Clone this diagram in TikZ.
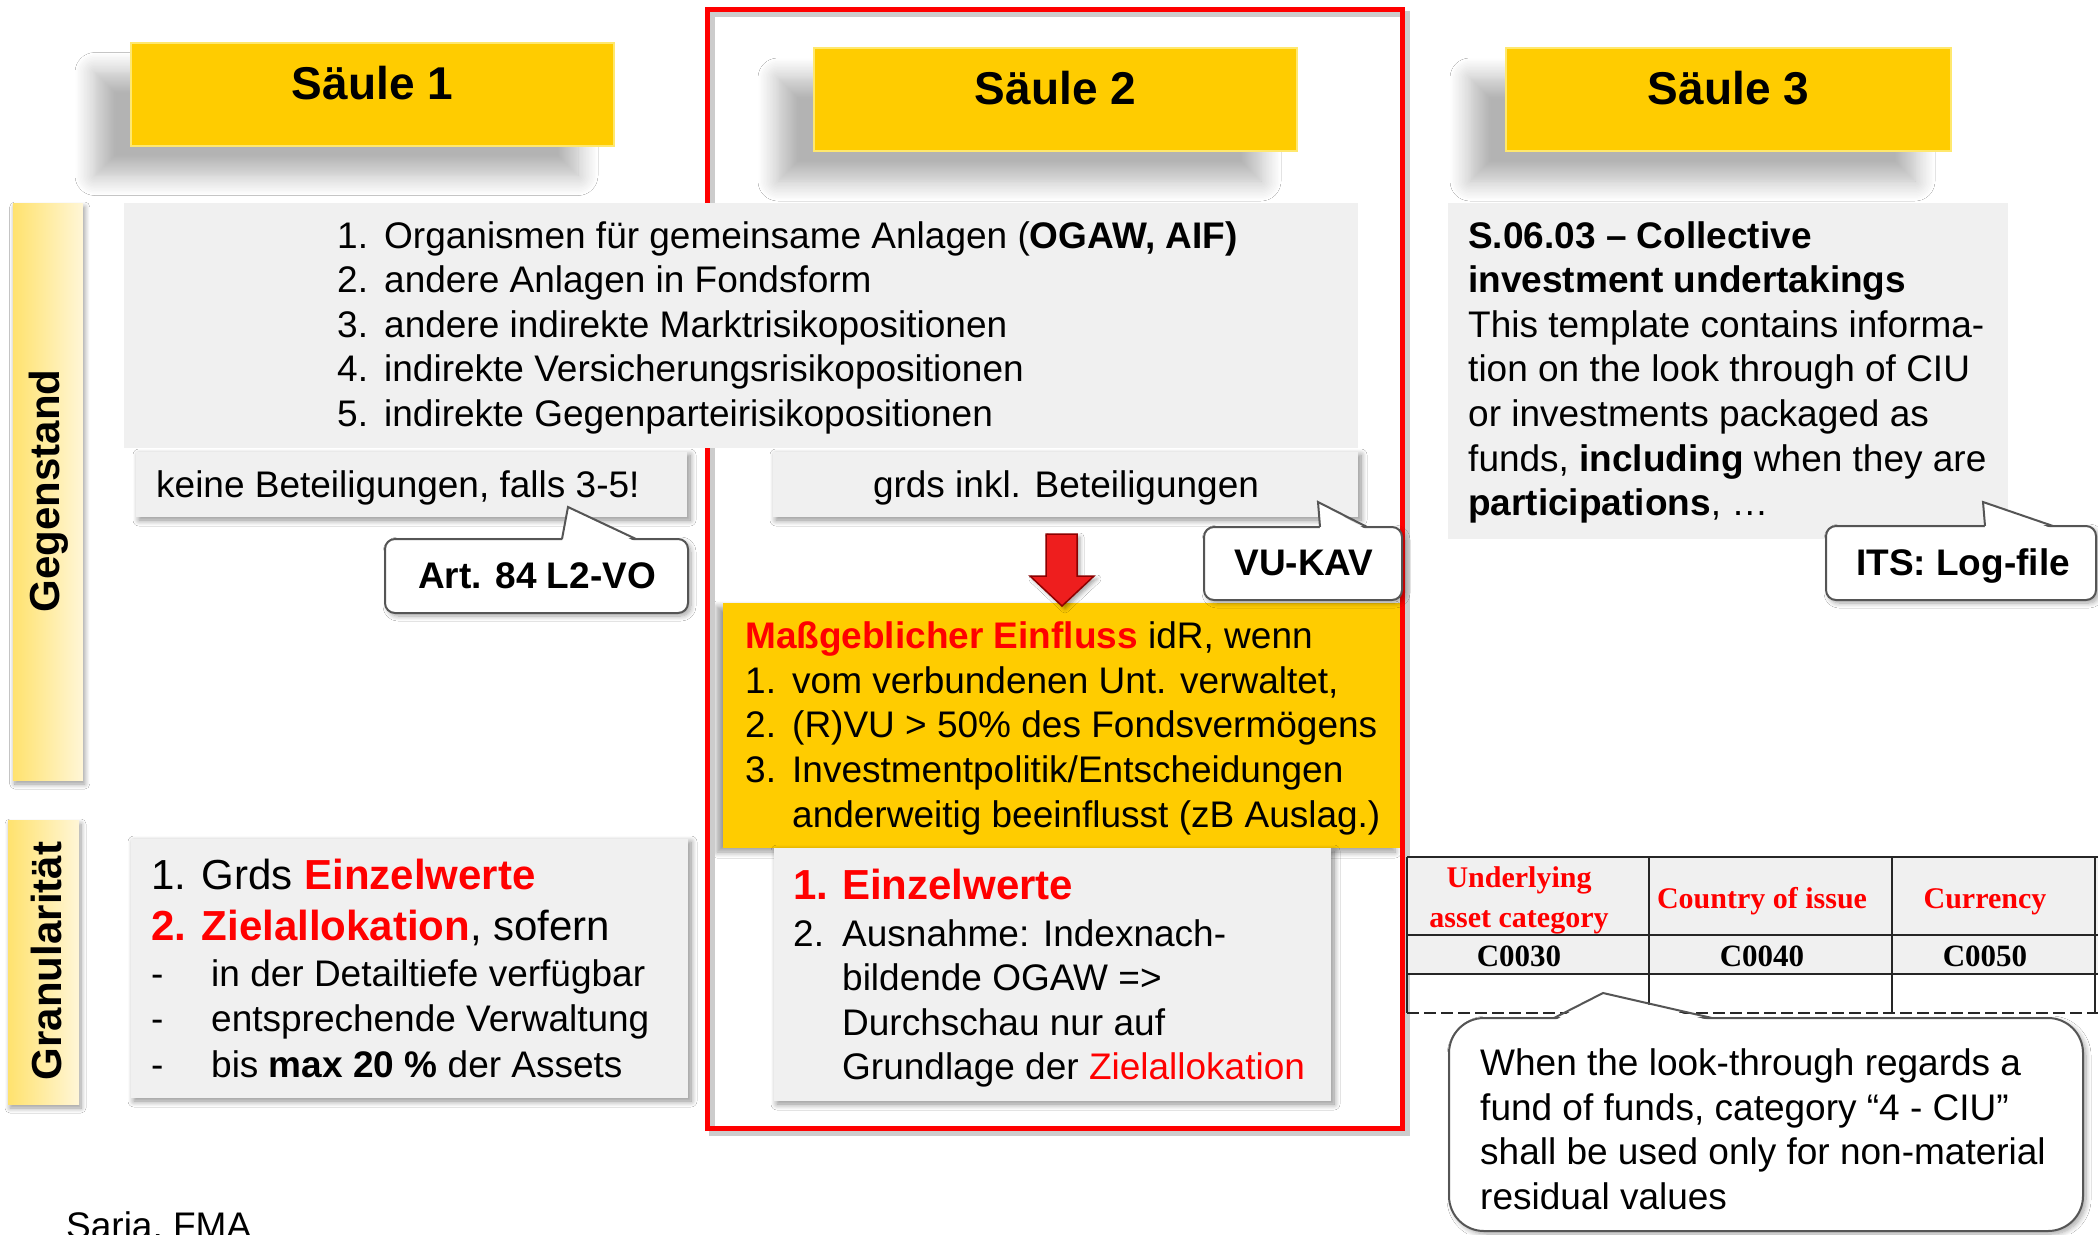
\documentclass[tikz,border=0pt]{standalone}
\usepackage{fontspec}
\setmainfont{Liberation Sans}
\newfontfamily\tabfont{Liberation Serif}
\usetikzlibrary{shadows.blur}
\definecolor{boxgray}{RGB}{240,240,240}
\definecolor{gold}{RGB}{255,204,0}
\definecolor{bevel}{RGB}{255,232,110}
\definecolor{barL}{RGB}{255,226,110}
\definecolor{barR}{RGB}{255,246,215}
\definecolor{calloutline}{RGB}{85,85,85}
\definecolor{arrowred}{RGB}{238,30,30}
\begin{document}
\begin{tikzpicture}[x=1pt,y=-1pt,
  body/.style={inner sep=0pt, anchor=base west, font=\fontsize{37}{44.6}\selectfont},
  bodyc/.style={body, anchor=base},
  big/.style={inner sep=0pt, anchor=base west, font=\fontsize{42}{50}\selectfont},
  pillar/.style={fill=gold, draw=bevel, line width=2pt, minimum width=483pt, minimum height=103pt, inner sep=0pt,
     blur shadow={shadow xshift=-36pt, shadow yshift=-30pt, shadow blur radius=20pt, shadow blur steps=14, shadow opacity=30}},
  pillartext/.style={inner sep=0pt, anchor=base, font=\bfseries\fontsize{46}{55}\selectfont},
  plain/.style={fill=boxgray, inner sep=0pt},
  softbox/.style={plain, blur shadow={shadow xshift=3pt, shadow yshift=-3pt, shadow blur radius=6pt, shadow blur steps=8, shadow opacity=45}},
  callout/.style={draw=calloutline, line width=2pt, fill=white, rounded corners=10pt, inner sep=0pt,
     blur shadow={shadow xshift=3pt, shadow yshift=-3pt, shadow blur radius=5pt, shadow blur steps=8, shadow opacity=35}},
  pointer/.style={draw=calloutline, line width=2pt, line join=miter},
  sidebar/.style={left color=barL, right color=barR, inner sep=0pt,
     blur shadow={shadow xshift=2pt, shadow yshift=-4pt, shadow blur radius=5pt, shadow blur steps=8, shadow opacity=40}},
  sidelabel/.style={rotate=90, inner sep=0pt, font=\bfseries\fontsize{42}{50}\selectfont},
  ybox/.style={fill=gold, inner sep=0pt, blur shadow={shadow xshift=-6pt, shadow yshift=-4pt, shadow blur radius=6pt, shadow blur steps=8, shadow opacity=40}},
  tabhead/.style={inner sep=0pt, anchor=base, text=red, font=\tabfont\bfseries\fontsize{30}{36}\selectfont},
  tabcode/.style={inner sep=0pt, anchor=base, font=\tabfont\bfseries\fontsize{31}{36}\selectfont},
  tabline/.style={line width=2pt, black!85}
]
\useasboundingbox (0,0) rectangle (2098,1234);
\fill[white] (0,0) rectangle (2098,1234);

% ---------- pillars ----------
\node[pillar] (s1) at (372.5,94) {};
\node[pillartext] (s1t) at (372.5,99) {Säule 1};
\node[pillar] (s2) at (1055.5,99.5) {};
\node[pillartext] (s2t) at (1055.5,104) {Säule 2};
\node[pillar, minimum width=445pt] (s3) at (1728.5,99.5) {};
\node[pillartext] (s3t) at (1728.5,104) {Säule 3};

% ---------- side bars ----------
\node[sidebar, minimum width=70pt, minimum height=577pt] (gbar) at (47.75,491.5) {};
\node[sidelabel] (gbart) at (49,491) {Gegenstand};
\node[sidebar, minimum width=71pt, minimum height=284pt] (rbar) at (43.5,962) {};
\node[sidelabel] (rbart) at (46,961) {Granularität};

% ---------- yellow box (Säule 2) ----------
\node[ybox, minimum width=678pt, minimum height=245pt] (yel) at (1062,725.5) {};
\node[body] (y1) at (745,648) {\textcolor{red}{\textbf{Maßgeblicher Einfluss}} idR, wenn};
\node[body] (y2) at (745,693) {\makebox[47pt][l]{1.}vom verbundenen Unt. verwaltet,};
\node[body] (y3) at (745,737) {\makebox[47pt][l]{2.}(R)VU > 50\% des Fondsvermögens};
\node[body] (y4) at (745,782) {\makebox[47pt][l]{3.}Investmentpolitik/Entscheidungen};
\node[body] (y5) at (792,827) {anderweitig beeinflusst (zB Auslag.)};

% ---------- Granularität boxes ----------
\node[softbox, minimum width=557pt, minimum height=259pt] (granL) at (409.5,968.5) {};
\node[big] (gl1) at (151,889) {1. Grds \textcolor{red}{\textbf{Einzelwerte}}};
\node[big] (gl2) at (151,940) {\textcolor{red}{\textbf{2. Zielallokation}}, sofern};
\node[body] (gl3) at (151,986) {\makebox[60pt][l]{-}in der Detailtiefe verfügbar};
\node[body] (gl4) at (151,1031) {\makebox[60pt][l]{-}entsprechende Verwaltung};
\node[body] (gl5) at (151,1077) {\makebox[60pt][l]{-}bis \textbf{max 20 \%} der Assets};

\node[softbox, minimum width=557pt, minimum height=253pt] (granM) at (1052.5,974.5) {};
\node[big] (gm1) at (793,899) {\textcolor{red}{\textbf{\makebox[49pt][l]{1.}Einzelwerte}}};
\node[body] (gm2) at (793,946) {\makebox[49pt][l]{2.}Ausnahme: Indexnach-};
\node[body] (gm3) at (842,990) {bildende OGAW =>};
\node[body] (gm4) at (842,1035) {Durchschau nur auf};
\node[body] (gm5) at (842,1079) {Grundlage der \textcolor{red}{Zielallokation}};

% ---------- red frame ----------
\draw[gray!40, line width=6pt] (712,14) rectangle (1407,1133);
\draw[red, line width=5pt] (707,9) rectangle (1402,1128);

% ---------- Gegenstand big box ----------
\node[plain, minimum width=1234pt, minimum height=245pt] (topbox) at (741,325.5) {};
\node[body] (it1) at (337,248) {\makebox[47pt][l]{1.}Organismen für gemeinsame Anlagen (\textbf{OGAW, AIF)}};
\node[body] (it2) at (337,292.6) {\makebox[47pt][l]{2.}andere Anlagen in Fondsform};
\node[body] (it3) at (337,337.2) {\makebox[47pt][l]{3.}andere indirekte Marktrisikopositionen};
\node[body] (it4) at (337,381.8) {\makebox[47pt][l]{4.}indirekte Versicherungsrisikopositionen};
\node[body] (it5) at (337,426.4) {\makebox[47pt][l]{5.}indirekte Gegenparteirisikopositionen};

% ---------- Säule 3 box ----------
\node[plain, minimum width=560pt, minimum height=336pt] (s3box) at (1728,371) {};
\node[body] (t1) at (1468,248) {\textbf{S.06.03 – Collective}};
\node[body] (t2) at (1468,292.6) {\textbf{investment undertakings}};
\node[body] (t3) at (1468,337.2) {This template contains informa-};
\node[body] (t4) at (1468,381.8) {tion on the look through of CIU};
\node[body] (t5) at (1468,426.4) {or investments packaged as};
\node[body] (t6) at (1468,471) {funds, \textbf{including} when they are};
\node[body] (t7) at (1468,515.6) {\textbf{participations}, …};

% ---------- small gray boxes ----------
\node[softbox, minimum width=551pt, minimum height=65pt] (keine) at (411.5,484.5) {};
\node[body] (keinet) at (156,497) {keine Beteiligungen, falls 3-5!};
\node[softbox, minimum width=585pt, minimum height=65pt] (grds) at (1065.5,484.5) {};
\node[bodyc] (grdst) at (1066,497) {grds inkl. Beteiligungen};

% ---------- callouts ----------
\node[callout, minimum width=303pt, minimum height=74pt] (art) at (536.5,576) {};
\coordinate (artA) at (562,539); \coordinate (artT) at (568,507); \coordinate (artB) at (636,539);
\fill[white] ([yshift=-3pt]artA) -- (artT) -- ([yshift=-3pt]artB) -- cycle;
\draw[pointer] (artA) -- (artT) -- (artB);
\node[bodyc, font=\bfseries\fontsize{37}{44.6}\selectfont] (artt) at (537,588) {Art. 84 L2-VO};

\node[callout, minimum width=198pt, minimum height=73pt] (vukav) at (1303,563.5) {};
\coordinate (vuA) at (1320,527); \coordinate (vuT) at (1318,502); \coordinate (vuB) at (1367,527);
\fill[white] ([yshift=-3pt]vuA) -- (vuT) -- ([yshift=-3pt]vuB) -- cycle;
\draw[pointer] (vuA) -- (vuT) -- (vuB);
\node[bodyc, font=\bfseries\fontsize{37}{44.6}\selectfont] (vukavt) at (1304,575) {VU-KAV};

\node[callout, minimum width=270pt, minimum height=74pt] (its) at (1961,563) {};
\coordinate (itsA) at (1985,526); \coordinate (itsT) at (1983,502); \coordinate (itsB) at (2053,526);
\fill[white] ([yshift=-3pt]itsA) -- (itsT) -- ([yshift=-3pt]itsB) -- cycle;
\draw[pointer] (itsA) -- (itsT) -- (itsB);
\node[bodyc, font=\bfseries\fontsize{37}{44.6}\selectfont] (itst) at (1963,575) {ITS: Log-file};

% ---------- red arrow ----------
\filldraw[fill=arrowred, draw=red!55!black, line width=1.5pt, line join=miter,
  blur shadow={shadow xshift=3pt, shadow yshift=-3pt, shadow blur radius=4pt, shadow opacity=35}]
  (1046,534) -- (1077,534) -- (1077,576) -- (1094,576) -- (1062,606) -- (1030,576) -- (1046,576) -- cycle;

% ---------- table ----------
\fill[boxgray] (1407,857) rectangle (2098,974);
\draw[tabline] (1407,857) -- (2098,857);
\draw[tabline] (1407,935) -- (2098,935);
\draw[tabline] (1407,974) -- (2098,974);
\draw[tabline] (1407,857) -- (1407,1013);
\draw[tabline] (1649,857) -- (1649,1013);
\draw[tabline] (1892,857) -- (1892,1013);
\draw[tabline] (2095,857) -- (2095,1013);
\draw[tabline, dash pattern=on 12pt off 5pt] (1407,1013) -- (2098,1013);
\node[tabhead] (h1a) at (1519,887) {Underlying};
\node[tabhead] (h1b) at (1519,927) {asset category};
\node[tabhead] (h2) at (1762,908) {Country of issue};
\node[tabhead] (h3) at (1985,908) {Currency};
\node[tabcode] (c1) at (1519,966) {C0030};
\node[tabcode] (c2) at (1762,966) {C0040};
\node[tabcode] (c3) at (1985,966) {C0050};

% ---------- bottom callout ----------
\node[callout, rounded corners=35pt, minimum width=634pt, minimum height=213pt] (note) at (1766,1124.5) {};
\coordinate (noA) at (1554,1018); \coordinate (noT) at (1603,993); \coordinate (noB) at (1712,1018);
\fill[white] ([yshift=-3pt]noA) -- (noT) -- ([yshift=-3pt]noB) -- cycle;
\draw[pointer] (noA) -- (noT) -- (noB);
\node[body] (n1) at (1480,1075) {When the look-through regards a};
\node[body] (n2) at (1480,1120) {fund of funds, category “4 - CIU”};
\node[body] (n3) at (1480,1164) {shall be used only for non-material};
\node[body] (n4) at (1480,1209) {residual values};

% ---------- footer ----------
\node[body] (saria) at (66,1238) {Saria, FMA};
\end{tikzpicture}
\end{document}
